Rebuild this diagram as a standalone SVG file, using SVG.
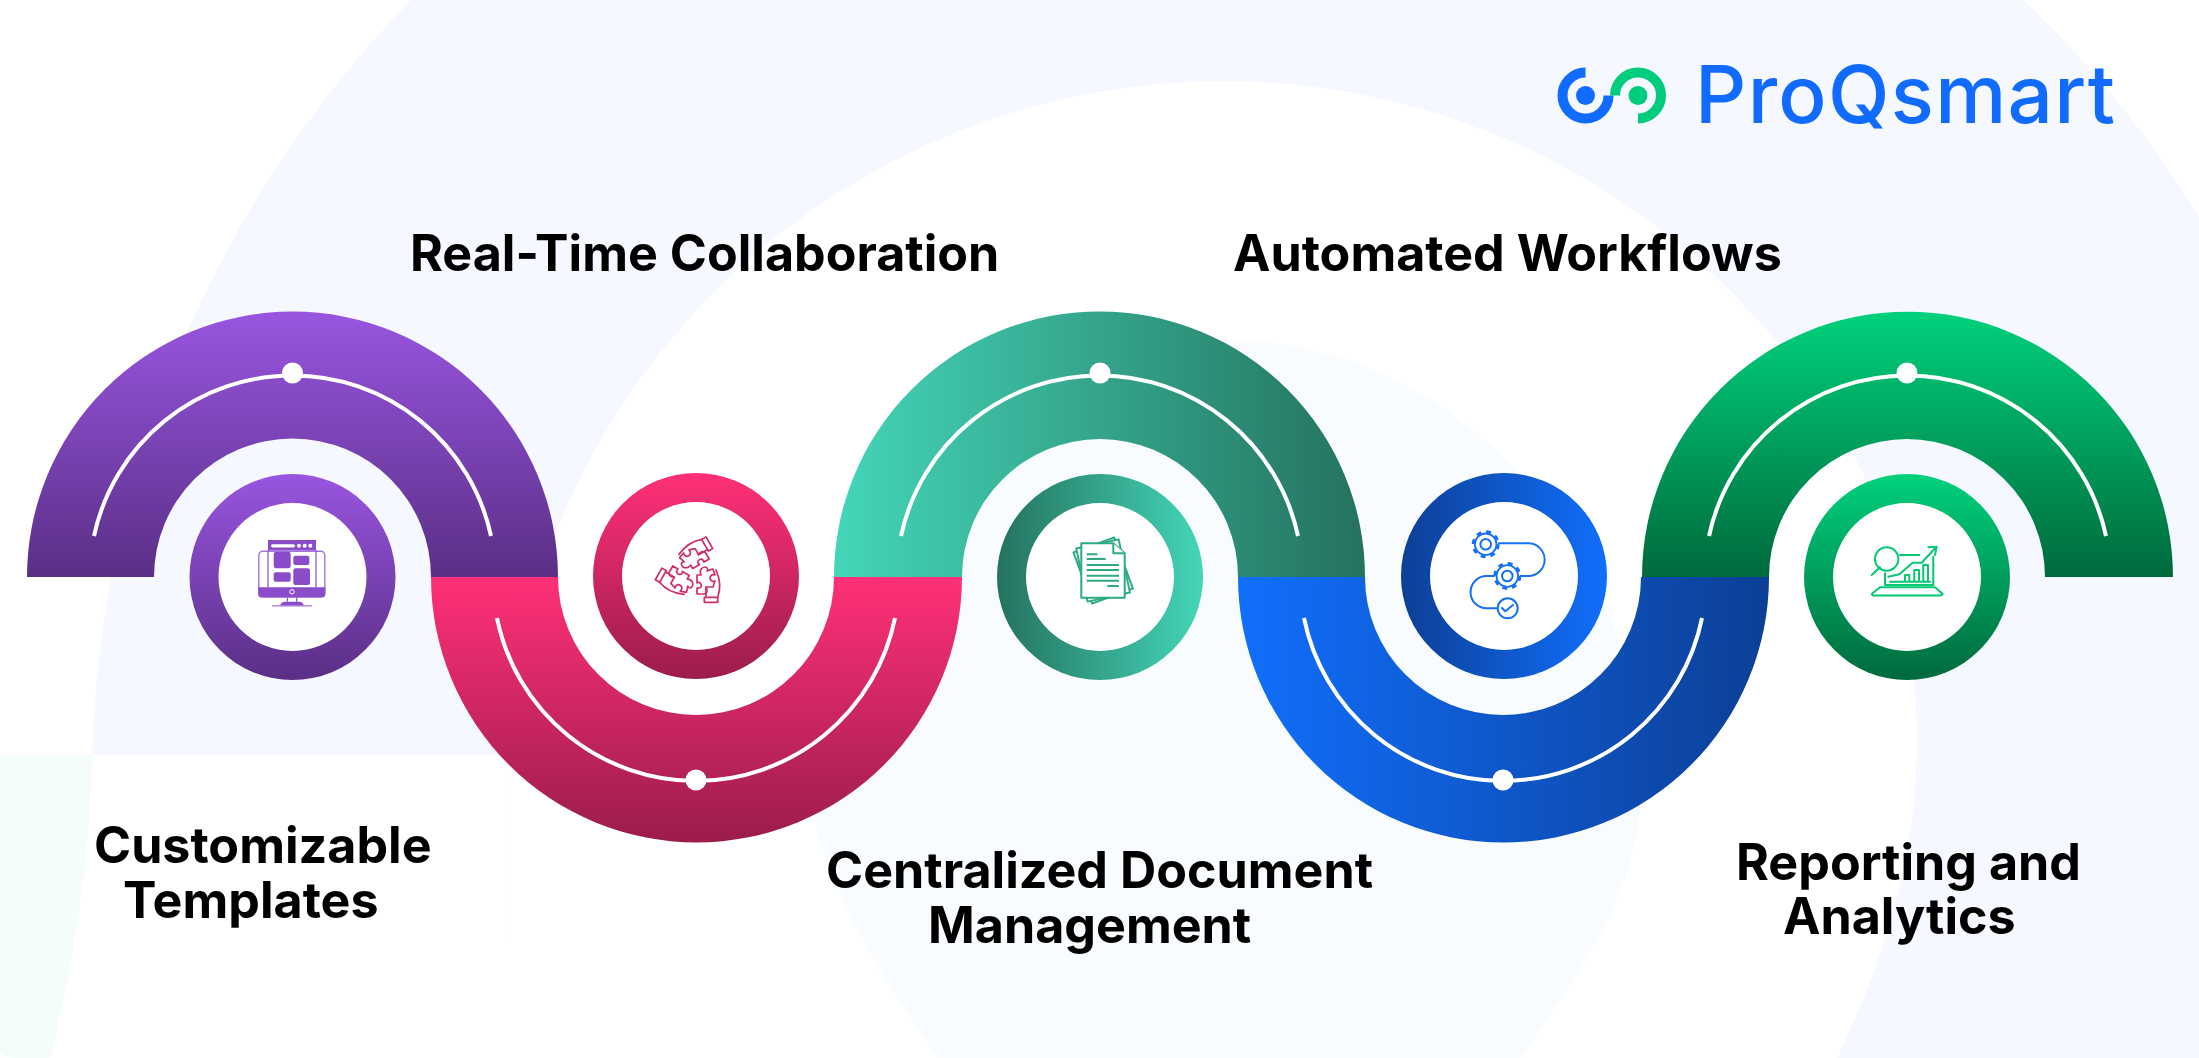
<svg xmlns="http://www.w3.org/2000/svg" xmlns:xlink="http://www.w3.org/1999/xlink" width="2199" height="1058" viewBox="0 0 2199 1058">
<style>
.lbl{font-family:"Inter","Liberation Sans",sans-serif;font-weight:700;font-size:50.200px;fill:#000}
.thin{fill:none;stroke:#fff;stroke-width:4}
.dot{fill:#fff}
.hole{fill:#fff}
.ic{fill:none;stroke-linejoin:round;stroke-linecap:round}
</style>
<defs>
<linearGradient id="gP" x1="0" y1="0" x2="0" y2="1"><stop offset="0" stop-color="#9955e0"/><stop offset="1" stop-color="#5a2f86"/></linearGradient>
<linearGradient id="gR" x1="0" y1="0" x2="0" y2="1"><stop offset="0" stop-color="#ff3078"/><stop offset="1" stop-color="#9b1c4c"/></linearGradient>
<linearGradient id="gT" x1="0" y1="0" x2="1" y2="0"><stop offset="0" stop-color="#44d6b8"/><stop offset="1" stop-color="#24725f"/></linearGradient>
<linearGradient id="gT2" x1="1" y1="0" x2="0" y2="0"><stop offset="0" stop-color="#44d6b8"/><stop offset="1" stop-color="#24725f"/></linearGradient>
<linearGradient id="gB" x1="0" y1="0" x2="1" y2="0"><stop offset="0" stop-color="#116ffc"/><stop offset="1" stop-color="#0c3f96"/></linearGradient>
<linearGradient id="gB2" x1="1" y1="0" x2="0" y2="0"><stop offset="0" stop-color="#116ffc"/><stop offset="1" stop-color="#0c3f96"/></linearGradient>
<linearGradient id="gG" x1="0" y1="0" x2="0" y2="1"><stop offset="0" stop-color="#00d17c"/><stop offset="1" stop-color="#006a3c"/></linearGradient>
<g id="gear"><circle r="12.500" fill="#fff" stroke="#1670f5" stroke-width="3" stroke-dasharray="4.900 4.920"/><circle r="10.800" fill="#fff" stroke="#1670f5" stroke-width="1.800"/><circle r="5.300" fill="#fff" stroke="#1670f5" stroke-width="2"/></g>
<g id="hand"><path d="M4 2L8 2C6-3 9-6 12-6C15-6 15-3 14-2L20-4L22 2C20 1 17 2 17 5C17 8 20 9 22 8L20 14L13 14C15 17 14 21 11 21L4 21L4 15C8 16 9 13 8 11C7 9 5 9 4 10Z"/><path d="M13 14L13 24.300M24.700 24.300C27 18 28 8 23-3"/><rect x="11.300" y="24.300" width="13.400" height="5"/></g>
</defs>

<g id="background">
<rect width="2199" height="1058" fill="#fff"/>
<path d="M411 0A1128 1128 0 0 0 92 755L505 755L505 1058L2199 1058L2199 216A1128 1128 0 0 0 2024 0Z" fill="#f5f8ff"/>
<path d="M505.400 755A719 719 0 0 1 1223 81A719 719 0 0 1 1855 457.300C1892 530 1917 640 1917 742C1917 850 1885 960 1837 1058L505 1058Z" fill="#fff"/>
<path d="M937 1058C870 960 812 860 812 790C812 550 1000 340 1229 340C1430 340 1641 520 1641 790C1641 880 1590 960 1520 1058Z" fill="#f8fcff"/>
<path d="M0 755L93 755C90 850 75 960 50 1058L14 1058Q4 1056 0 1052Z" fill="#f5fdfa"/>
</g>

<g id="logo">
<path d="M1585.500 72.500A23 23 0 1 0 1608.500 95.500" fill="none" stroke="#126bff" stroke-width="10"/>
<circle cx="1585.500" cy="95.500" r="9.500" fill="#126bff"/>
<path d="M1615 95.500A23 23 0 1 1 1638 118.500" fill="none" stroke="#00cc7e" stroke-width="10"/>
<circle cx="1638" cy="95.500" r="9.500" fill="#00cc7e"/>
<text x="1695" y="123" font-family="Inter, 'Liberation Sans', sans-serif" font-weight="500" font-size="80" letter-spacing="1.300" fill="#126bff">ProQsmart</text>
</g>

<g id="connectors"></g>

<g id="node-customizable-templates">
<path d="M27 577A265.500 265.500 0 0 1 558 577L431 577A138.500 138.500 0 0 0 154 577Z" fill="url(#gP)"/>
<path class="thin" d="M94 536A203 203 0 0 1 491 536"/>
<circle class="dot" cx="292.500" cy="373" r="10.500"/>
<circle cx="292.500" cy="577" r="103" fill="url(#gP)"/>
<circle class="hole" cx="292.500" cy="577" r="74"/>
<g fill="#8a4cc9">
<rect x="258.800" y="551.200" width="66" height="45.600" rx="4" fill="none" stroke="#a574da" stroke-width="1.400"/>
<path d="M258.300 587.300H325.300V594Q325.300 597.500 322 597.500H261.500Q258.300 597.500 258.300 594Z"/>
<path d="M268 550.500V587M316 550.500V587" stroke="#8a4cc9" stroke-width="1.200"/>
<rect x="268" y="540" width="48" height="10.500"/>
<rect x="271" y="544.200" width="24" height="3.200" rx="1.600" fill="#fff"/>
<g fill="#fff"><circle cx="299" cy="545.700" r="2"/><circle cx="304.700" cy="545.700" r="2"/><circle cx="310.300" cy="545.700" r="2"/></g>
<rect x="273.700" y="551.700" width="17" height="16.600" rx="2.500"/>
<rect x="293.300" y="555.700" width="16" height="9.300" rx="2"/>
<rect x="273.700" y="572.300" width="17" height="9.400" rx="2"/>
<rect x="293.300" y="568.300" width="16.700" height="16.700" rx="2.500"/>
<circle cx="292" cy="591.800" r="2.200" fill="none" stroke="#fff" stroke-width="1"/>
<path d="M287.500 597.500V601.700M296.700 597.500V601.700" stroke="#8a4cc9" stroke-width="1.200"/>
<path d="M280 605.500Q281 601.700 285 601.700H299Q303 601.700 304 605.500Z"/>
<path d="M272 605.800H312" stroke="#a574da" stroke-width="1.200"/>
</g>
<text class="lbl" x="94" y="863">Customizable</text>
<text class="lbl" x="123" y="918">Templates</text>
</g>

<g id="node-real-time-collaboration">
<path d="M431 577A265.500 265.500 0 0 0 962 577L834 577A138 138 0 0 1 558 577Z" fill="url(#gR)"/>
<path class="thin" d="M497 618A203 203 0 0 0 895 618"/>
<circle class="dot" cx="696" cy="780" r="10.500"/>
<circle cx="696" cy="576" r="103" fill="url(#gR)"/>
<circle class="hole" cx="696" cy="576" r="74"/>
<g class="ic" stroke="#cf2c6b" stroke-width="1.700" transform="translate(693 573)">
<use xlink:href="#hand" href="#hand"/>
<use xlink:href="#hand" href="#hand" transform="rotate(120)"/>
<use xlink:href="#hand" href="#hand" transform="rotate(-120)"/>
</g>
<text class="lbl" x="410" y="271">Real-Time Collaboration</text>
</g>

<g id="node-centralized-document-management">
<path d="M834 577A265.500 265.500 0 0 1 1365 577L1238 577A138 138 0 0 0 962 577Z" fill="url(#gT)"/>
<path class="thin" d="M901 536A203 203 0 0 1 1298 536"/>
<circle class="dot" cx="1100" cy="373" r="10.500"/>
<circle cx="1100" cy="577" r="103" fill="url(#gT2)"/>
<circle class="hole" cx="1100" cy="577" r="74"/>
<g stroke="#2eab82" stroke-width="2" fill="#fff" stroke-linejoin="round">
<rect x="1081.300" y="543.300" width="43.400" height="54.400" transform="rotate(-20 1103 570)"/>
<rect x="1081.300" y="543.300" width="43.400" height="54.400" transform="rotate(-12 1103 570)"/>
<path d="M1081.300 543.300H1113.300L1124.700 553.300V597.700H1081.300Z"/>
<path d="M1113.300 543.300V553.300H1124.700"/>
<path d="M1086.700 554.300H1097.300M1086.700 559H1105.700M1086.700 565H1119M1086.700 570H1119M1086.700 575.700H1119M1086.700 580.700H1119M1107.300 586H1119"/>
</g>
<text class="lbl" x="826" y="888">Centralized Document</text>
<text class="lbl" x="928" y="943">Management</text>
</g>

<g id="node-automated-workflows">
<path d="M1238 577A265.500 265.500 0 0 0 1769 577L1641 577A138 138 0 0 1 1365 577Z" fill="url(#gB)"/>
<path class="thin" d="M1304 618A203 203 0 0 0 1702 618"/>
<circle class="dot" cx="1503" cy="780" r="10.500"/>
<circle cx="1504" cy="576" r="103" fill="url(#gB2)"/>
<circle class="hole" cx="1504" cy="576" r="74"/>
<path class="ic" stroke="#1670f5" stroke-width="2" d="M1498 543.300H1528.300A16.350 16.350 0 0 1 1528.300 576H1518M1496 576H1486.700A16.150 16.150 0 0 0 1486.700 608.300H1497.700"/>
<use xlink:href="#gear" href="#gear" x="1485.700" y="544.300"/>
<use xlink:href="#gear" href="#gear" x="1507.300" y="576"/>
<circle cx="1507.700" cy="608.300" r="10" fill="#fff" stroke="#1670f5" stroke-width="2"/>
<path class="ic" stroke="#1670f5" stroke-width="2" d="M1502 608L1505.300 611.300L1513 605"/>
<text class="lbl" x="1233" y="271">Automated Workflows</text>
</g>

<g id="node-reporting-and-analytics">
<path d="M1642 577A265.500 265.500 0 0 1 2173 577L2045 577A138 138 0 0 0 1769 577Z" fill="url(#gG)"/>
<path class="thin" d="M1709 536A203 203 0 0 1 2106 536"/>
<circle class="dot" cx="1907" cy="373" r="10.500"/>
<circle cx="1907" cy="577" r="103" fill="url(#gG)"/>
<circle class="hole" cx="1907" cy="577" r="74"/>
<g class="ic" stroke="#05c972" stroke-width="2">
<path d="M1880 587.300H1935L1942.700 594L1941 595.500H1873L1871.700 594Z"/>
<path d="M1885 573.300V585H1933.300V556.700"/>
<path d="M1900 555H1919.300"/>
<circle cx="1886.700" cy="559" r="11.700"/>
<path d="M1880 567.300L1871.700 575"/>
<path d="M1888.300 576.700L1899.300 574.300L1912.700 562.700H1921.700L1936 547.300M1928.300 547.300L1936.700 546.700L1935 555"/>
<path d="M1905 581.700V575H1909.300V581.700M1914.300 581.700V570H1919V581.700M1923.300 581.700V565H1928V581.700M1890 581.700H1930"/>
</g>
<text class="lbl" x="1736" y="880">Reporting and</text>
<text class="lbl" x="1783" y="934">Analytics</text>
</g>
</svg>
